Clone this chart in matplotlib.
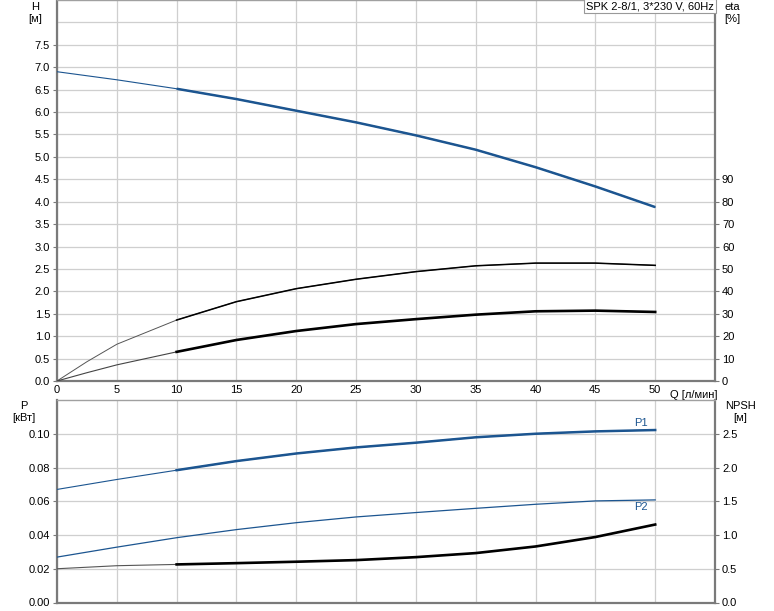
import matplotlib
matplotlib.use("Agg")
import matplotlib.pyplot as plt
import numpy as np

plt.rcParams['font.family'] = ['Liberation Sans', 'DejaVu Sans']

# ---- data ----
q = [0, 5, 10, 15, 20, 25, 30, 35, 40, 45, 50]
head = [6.90, 6.72, 6.52, 6.29, 6.03, 5.77, 5.48, 5.16, 4.77, 4.34, 3.88]

q_eta = [0, 2.5, 5, 10, 15, 20, 25, 30, 35, 40, 45, 50]
eta_upper = [0, 8.6, 16.4, 27.2, 35.4, 41.2, 45.4, 48.8, 51.4, 52.6, 52.6, 51.6]
eta_lower = [0, 3.7, 7.2, 13.0, 18.3, 22.3, 25.4, 27.6, 29.6, 31.1, 31.4, 30.8]

p1 = [0.0670, 0.0729, 0.0784, 0.0838, 0.0883, 0.0919, 0.0947, 0.0979, 0.1000, 0.1014, 0.1022]
p2 = [0.0269, 0.0328, 0.0384, 0.0432, 0.0473, 0.0507, 0.0533, 0.0558, 0.0582, 0.0602, 0.0608]
npsh = [0.50, 0.545, 0.564, 0.583, 0.604, 0.628, 0.672, 0.732, 0.83, 0.97, 1.155]

x_ticks = [0, 5, 10, 15, 20, 25, 30, 35, 40, 45, 50]
h_ticks = [0.0, 0.5, 1.0, 1.5, 2.0, 2.5, 3.0, 3.5, 4.0, 4.5, 5.0, 5.5, 6.0, 6.5, 7.0, 7.5]
eta_ticks = [0, 10, 20, 30, 40, 50, 60, 70, 80, 90]
p_ticks = [0.00, 0.02, 0.04, 0.06, 0.08, 0.10]
npsh_ticks = [0.0, 0.5, 1.0, 1.5, 2.0, 2.5]

title_text = "SPK 2-8/1, 3*230 V, 60Hz"
q_start = 10  # start of the operating (thick) range

BLUE = '#1c5590'
GRID = '#cfcfcf'
SPINE = '#7a7a7a'
FS = 8

fig = plt.figure(figsize=(7.74, 6.11), dpi=100)
ax1 = fig.add_axes([57/774, 1-381/611, 658/774, 381/611])
ax2 = fig.add_axes([57/774, 1-602.5/611, 658/774, 202.5/611])

def style(ax):
    ax.set_xlim(0, 55)
    for x in x_ticks:
        ax.axvline(x, color=GRID, lw=0.9, zorder=0)
    for s in ['left', 'right', 'bottom']:
        ax.spines[s].set_color(SPINE)
        ax.spines[s].set_linewidth(1.6)
    ax.spines['top'].set_color('#a0a0a0')
    ax.spines['top'].set_linewidth(1.0)
    ax.tick_params(axis='y', length=3, width=0.8, color=SPINE, labelsize=FS, pad=2)
    ax.tick_params(axis='x', length=0, labelsize=FS, pad=3)

def thick_part(x, y):
    xs = [a for a in x if a >= q_start]
    ys = [b for a, b in zip(x, y) if a >= q_start]
    return xs, ys

# ---- top axes ----
style(ax1)
ax1.set_ylim(0, 8.5)
for h in np.arange(0, 8.01, 0.5):
    ax1.axhline(h, color=GRID, lw=0.9, zorder=0)
ax1.set_yticks(h_ticks)
ax1.set_yticklabels([f"{v:.1f}" for v in h_ticks])
ax1.set_xticks(x_ticks)
ax1.set_xticklabels([str(v) for v in x_ticks])

ax1.plot(q, head, color=BLUE, lw=0.8, zorder=3)
ax1.plot(*thick_part(q, head), color=BLUE, lw=1.8, zorder=4, solid_capstyle='butt')

ax1e = ax1.twinx()
ax1e.set_position(ax1.get_position())
ax1e.set_ylim(0, 170)
ax1e.set_yticks(eta_ticks)
ax1e.set_yticklabels([str(v) for v in eta_ticks])
ax1e.tick_params(axis='y', length=3, width=0.8, color=SPINE, labelsize=FS, pad=2)
for s in ax1e.spines.values():
    s.set_visible(False)
ax1e.plot(q_eta, eta_upper, color='#555555', lw=0.7, zorder=3)
ax1e.plot(*thick_part(q_eta, eta_upper), color='black', lw=1.1, zorder=4)
ax1e.plot(q_eta, eta_lower, color='#444444', lw=0.8, zorder=3)
ax1e.plot(*thick_part(q_eta, eta_lower), color='black', lw=1.9, zorder=4)

ax1.text(-0.033, 0.995, "H\n[м]", transform=ax1.transAxes, ha='center', va='top',
         fontsize=FS, linespacing=1.3)
ax1.text(1.027, 0.995, "eta\n[%]", transform=ax1.transAxes, ha='center', va='top',
         fontsize=FS, linespacing=1.3)
ax1.text(0.9985, 0.997, title_text, transform=ax1.transAxes, ha='right', va='top',
         fontsize=FS, zorder=10,
         bbox=dict(boxstyle='square,pad=0.2', fc='white', ec='#999999', lw=0.8))
ax1.text(51.2, -0.2, "Q [л/мин]", ha='left', va='top', fontsize=FS)

# ---- bottom axes ----
style(ax2)
ax2.set_ylim(0, 0.12)
for p in p_ticks:
    ax2.axhline(p, color=GRID, lw=0.9, zorder=0)
ax2.set_yticks(p_ticks)
ax2.set_yticklabels([f"{v:.2f}" for v in p_ticks])
ax2.set_xticks(x_ticks)
ax2.set_xticklabels([])

ax2.plot(q, p1, color=BLUE, lw=0.8, zorder=3)
ax2.plot(*thick_part(q, p1), color=BLUE, lw=1.8, zorder=4)
ax2.plot(q, p2, color=BLUE, lw=0.9, zorder=3)
ax2.text(q[-1] - 0.6, p1[-1] + 0.0012, "P1", color=BLUE, ha='right', va='bottom', fontsize=FS)
ax2.text(q[-1] - 0.6, p2[-1] - 0.0012, "P2", color=BLUE, ha='right', va='top', fontsize=FS)

ax2n = ax2.twinx()
ax2n.set_position(ax2.get_position())
ax2n.set_ylim(0, 3.0)
ax2n.set_yticks(npsh_ticks)
ax2n.set_yticklabels([f"{v:.1f}" for v in npsh_ticks])
ax2n.tick_params(axis='y', length=3, width=0.8, color=SPINE, labelsize=FS, pad=2)
for s in ax2n.spines.values():
    s.set_visible(False)
ax2n.plot(q, npsh, color='#555555', lw=0.8, zorder=3)
ax2n.plot(*thick_part(q, npsh), color='black', lw=1.9, zorder=4)

ax2.text(-0.05, 0.995, "P\n[кВт]", transform=ax2.transAxes, ha='center', va='top',
         fontsize=FS, linespacing=1.3)
ax2.text(1.038, 0.995, "NPSH\n[м]", transform=ax2.transAxes, ha='center', va='top',
         fontsize=FS, linespacing=1.3)

fig.savefig("out.png", dpi=100)
